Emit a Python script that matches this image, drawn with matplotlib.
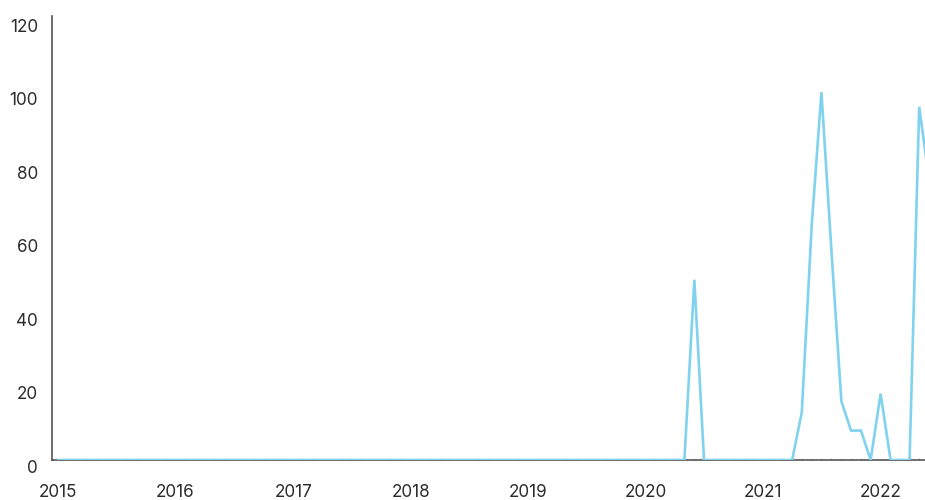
import pandas as pd
import matplotlib.pyplot as plt
import matplotlib.dates as mdates

plt.rcParams['font.family'] = ['Inter', 'DejaVu Sans']

# monthly values, one row per year (2015-01 .. 2022-06)
values = [
    0, 0, 0, 0, 0, 0, 0, 0, 0, 0, 0, 0,      # 2015
    0, 0, 0, 0, 0, 0, 0, 0, 0, 0, 0, 0,      # 2016
    0, 0, 0, 0, 0, 0, 0, 0, 0, 0, 0, 0,      # 2017
    0, 0, 0, 0, 0, 0, 0, 0, 0, 0, 0, 0,      # 2018
    0, 0, 0, 0, 0, 0, 0, 0, 0, 0, 0, 0,      # 2019
    0, 0, 0, 0, 0, 49, 0, 0, 0, 0, 0, 0,     # 2020
    0, 0, 0, 0, 13, 64, 100, 57, 16, 8, 8, 0,  # 2021
    18, 0, 0, 0, 96, 76,                     # 2022
]
months = pd.date_range('2015-01-01', periods=len(values), freq='MS')
year_ticks = pd.date_range('2015-01-01', '2022-01-01', freq='YS')
y_ticks = [0, 20, 40, 60, 80, 100, 120]

fig = plt.figure(figsize=(9.25, 5), dpi=100)
ax = fig.add_axes([0.0562, 0.08, 0.9438, 0.888])

ax.plot(months, values, color='#80d2ee', linewidth=1.9, solid_joinstyle='miter', zorder=3)

ax.set_xlim(pd.Timestamp('2014-12-13'), pd.Timestamp('2022-05-19'))
ax.set_ylim(0, 120.7)

ax.set_xticks(year_ticks)
ax.xaxis.set_major_formatter(mdates.DateFormatter('%Y'))
ax.xaxis.set_minor_locator(mdates.MonthLocator())
ax.set_yticks(y_ticks)

ax.tick_params(axis='x', which='major', length=0, pad=17, labelsize=12.3, labelcolor='#2b2b2b')
ax.tick_params(axis='x', which='minor', direction='in', length=1.5, width=0.5, color='#9aaab0')
ax.tick_params(axis='y', length=0, pad=10, labelsize=12.3, labelcolor='#2b2b2b')
for lab in ax.get_yticklabels():
    lab.set_verticalalignment('top')

for side in ['top', 'right']:
    ax.spines[side].set_visible(False)
for side in ['left', 'bottom']:
    ax.spines[side].set_color('#555555')
    ax.spines[side].set_linewidth(1.2)

plt.savefig('out.png', dpi=100)
